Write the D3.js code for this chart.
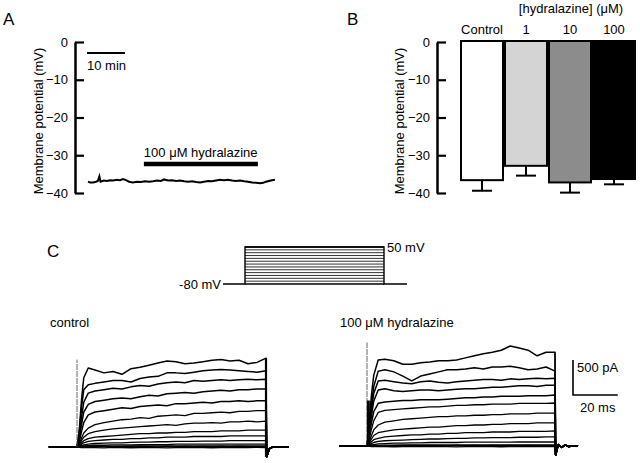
<!DOCTYPE html>
<html><head><meta charset="utf-8">
<script src="https://cdn.jsdelivr.net/npm/d3@7"></script>
<style>
body{margin:0;background:#fff;}
text{font-family:"Liberation Sans",Arial,Helvetica,sans-serif;fill:#000;}
</style>
</head><body>
<svg id="fig" width="640" height="463"></svg>
<script>
// ---------- Panel A data ----------
const aTime = [0,0.5,1.3,2.1,2.6,3.0,3.3,4.2,5.0,5.8,6.6,7.6,8.4,9.2,10.0,10.8,11.8,12.9,13.9,15.0,16.1,17.1,18.2,19.2,20.0,21.1,22.1,23.2,24.2,25.3,26.3,27.4,28.4,29.5,30.5,31.6,32.6,33.7,34.7,35.8,36.8,37.9,38.9,40.0,41.1,42.1,43.2,44.2,45.3,46.1,46.8,47.6,48.4,49.2];
const aVm = [-37.0,-37.2,-37.2,-37.0,-36.8,-35.6,-37.0,-36.7,-36.8,-36.6,-36.7,-36.5,-36.6,-36.3,-36.6,-37.0,-37.2,-37.0,-37.1,-36.9,-37.0,-36.9,-36.7,-36.8,-36.4,-36.7,-36.6,-36.8,-36.7,-36.9,-37.0,-36.9,-37.1,-37.2,-37.0,-36.8,-36.9,-36.7,-36.5,-36.6,-36.5,-36.7,-36.8,-36.7,-36.9,-37.0,-37.2,-37.3,-37.4,-37.3,-37.0,-36.8,-36.6,-36.5];
const aDrugStart = 14.7, aDrugEnd = 44.7, aDrugLevel = -32.3;
const aScaleMin = 10;
const yTicks = [0,-10,-20,-30,-40];

// ---------- Panel B data ----------
const bCategories = ["Control","1","10","100"];
const bMeans = [-36.6,-32.8,-37.2,-36.3];
const bSem = [2.8,2.6,2.7,1.4];
const bFills = ["#ffffff","#d4d4d4","#8c8c8c","#000000"];

// ---------- Panel C protocol ----------
const stepLevels = [-80,-70,-60,-50,-40,-30,-20,-10,0,10,20,30,40,50];
const holding = -80;
const stepDur = 84;

// ---------- Panel C currents (pA) ----------
const cTime = [0,1,2,3,5,8,12,16,20,24,28,32,36,40,44,48,52,56,60,64,68,72,76,80,84];
const controlTraces = [
 [0,240,670,990,1130,1100,1060,1080,1040,1120,1140,1170,1200,1230,1220,1190,1200,1220,1240,1250,1230,1240,1190,1210,1270],
 [0,200,560,820,890,910,930,950,950,930,980,1000,1010,1060,1060,1050,1070,1090,1100,1110,1100,1090,1080,1070,1090],
 [0,150,420,640,770,800,820,840,830,860,880,870,900,920,930,920,950,940,950,960,950,960,970,960,970],
 [0,110,320,500,610,650,670,690,700,690,720,740,730,760,770,780,770,790,800,810,800,820,820,830,830],
 [0,80,220,350,460,500,520,540,560,550,580,590,600,590,620,620,630,640,630,650,650,660,650,660,660],
 [0,50,130,200,270,320,350,370,390,400,420,410,440,450,460,450,480,480,490,500,490,510,510,520,520],
 [0,30,90,140,190,220,240,260,270,280,290,300,310,320,310,330,340,340,350,340,360,360,370,360,370],
 [0,20,60,90,120,140,150,160,170,180,190,190,200,200,210,210,220,220,220,230,230,230,240,240,240],
 [0,15,40,60,80,90,100,110,110,120,120,130,130,140,140,140,150,150,150,150,160,160,160,160,160],
 [0,10,20,30,40,50,55,60,60,65,70,70,75,75,80,80,80,85,85,85,90,90,90,90,90],
 [0,5,10,15,20,25,25,30,30,30,35,35,35,35,40,40,40,40,40,40,40,40,40,40,40],
 [0,3,6,8,10,10,12,12,12,14,14,14,15,15,15,15,15,15,15,15,15,15,15,15,15],
 [0,-5,-8,-6,-10,-8,-12,-6,-9,-11,-7,-10,-8,-12,-9,-6,-10,-8,-11,-7,-9,-10,-8,-6,-8],
 [0,8,4,10,6,3,9,5,7,4,8,6,3,9,5,7,4,8,6,9,5,7,4,6,5]
];
const controlTransient = 1250;
const controlPostT = [84.3,85.5,87,94];
const controlPostI = [-140,-25,0,0];

const hydraTraces = [
 [0,370,730,1010,1230,1240,1220,1170,1170,1190,1200,1220,1220,1230,1260,1290,1320,1340,1370,1430,1400,1370,1290,1340,1340],
 [0,300,600,850,1070,1090,1060,1000,930,1000,1030,1060,1090,1090,1100,1120,1100,1130,1130,1140,1120,1090,1100,1130,1070],
 [0,250,520,750,930,940,920,900,890,920,930,910,900,920,930,940,950,950,940,960,950,960,970,960,970],
 [0,200,430,640,800,820,790,780,790,800,800,790,800,810,820,820,830,840,840,850,860,860,850,870,870],
 [0,150,330,490,610,630,640,650,650,660,660,660,670,680,690,690,700,700,710,710,710,720,720,720,730],
 [0,100,240,360,480,510,520,530,540,550,560,560,570,580,580,590,590,600,600,600,610,610,610,610,615],
 [0,60,150,230,300,340,360,380,390,400,410,420,420,430,430,440,440,450,450,460,460,460,470,470,470],
 [0,40,100,150,190,210,230,240,250,260,270,270,280,290,290,300,300,310,310,320,320,320,330,330,330],
 [0,25,60,90,110,130,140,150,160,160,170,170,180,180,190,190,190,200,200,200,210,210,210,210,215],
 [0,15,35,50,65,75,80,85,90,95,100,100,105,110,110,115,115,120,120,120,125,125,125,130,130],
 [0,5,15,20,30,35,40,40,45,45,50,50,50,50,55,55,55,55,55,55,57,57,57,57,57],
 [0,3,6,8,10,12,12,14,14,14,14,14,14,14,14,14,14,14,14,14,14,14,14,14,14],
 [0,-6,-9,-7,-10,-8,-11,-7,-10,-9,-6,-10,-8,-12,-9,-7,-10,-8,-11,-7,-9,-10,-8,-7,-8],
 [0,7,4,9,5,3,8,5,7,4,8,6,3,9,5,7,4,8,6,9,5,7,4,6,5]
];
const hydraTransientThin = 1480, hydraTransientThick = 650;
const hydraPostT = [84.3,85.5,87,88.5,90,92,94.3];
const hydraPostI = [-130,20,-20,15,-10,5,0];
const preT = -12.5;
const scaleI = 500, scaleT = 20;

// ============ drawing ============
const svg = d3.select("#fig");
const font = 13;

function panelLabel(t,x,y){ svg.append("text").attr("x",x).attr("y",y).attr("font-size",17).text(t); }
panelLabel("A",3,25); panelLabel("B",347,25); panelLabel("C",47,257);

function yAxis(g, scale){
  const ax = d3.axisLeft(scale).tickValues(yTicks).tickSizeInner(-9).tickSizeOuter(0).tickPadding(7).tickFormat(d3.format("d"));
  g.call(ax);
  g.select(".domain").attr("stroke","#000").attr("stroke-width",2.5);
  g.selectAll(".tick line").attr("stroke","#000").attr("stroke-width",2.2);
  g.selectAll(".tick text").attr("font-size",font).attr("font-family","Liberation Sans, Arial, sans-serif").attr("fill","#000");
}

// ---- Panel A ----
const yA = d3.scaleLinear().domain([-40,0]).range([193,42]);
const xA = d3.scaleLinear().domain([0,49.2]).range([88,275]);
yAxis(svg.append("g").attr("transform","translate(75,0)"), yA);
svg.append("text").attr("transform","translate(43,121) rotate(-90)").attr("text-anchor","middle").attr("font-size",font).text("Membrane potential (mV)");
svg.append("path").datum(aTime.map((t,i)=>[t,aVm[i]]))
  .attr("d", d3.line().x(d=>xA(d[0])).y(d=>yA(d[1])))
  .attr("fill","none").attr("stroke","#000").attr("stroke-width",2);
svg.append("line").attr("x1",87).attr("x2",87+xA(aScaleMin)-xA(0)).attr("y1",53).attr("y2",53).attr("stroke","#000").attr("stroke-width",2);
svg.append("text").attr("x",87).attr("y",70).attr("font-size",font).text("10 min");
svg.append("line").attr("x1",xA(aDrugStart)).attr("x2",xA(aDrugEnd)).attr("y1",yA(aDrugLevel)).attr("y2",yA(aDrugLevel)).attr("stroke","#000").attr("stroke-width",4.5);
svg.append("text").attr("x",xA(aDrugStart)).attr("y",157).attr("font-size",font).text("100 \u03BCM hydralazine");

// ---- Panel B ----
const yB = d3.scaleLinear().domain([-40,0]).range([193,42]);
const xB = d3.scaleBand().domain(bCategories).range([460,636]).padding(0);
yAxis(svg.append("g").attr("transform","translate(437,0)"), yB);
svg.append("text").attr("transform","translate(404,121) rotate(-90)").attr("text-anchor","middle").attr("font-size",font).text("Membrane potential (mV)");
const bw = xB.bandwidth();
bCategories.forEach((c,i)=>{
  const cx = xB(c)+bw/2;
  svg.append("line").attr("x1",cx).attr("x2",cx).attr("y1",yB(bMeans[i])).attr("y2",yB(bMeans[i]-bSem[i])).attr("stroke","#000").attr("stroke-width",2);
  svg.append("line").attr("x1",cx-10).attr("x2",cx+10).attr("y1",yB(bMeans[i]-bSem[i])).attr("y2",yB(bMeans[i]-bSem[i])).attr("stroke","#000").attr("stroke-width",2);
});
svg.selectAll("rect.bar").data(bCategories).join("rect").attr("class","bar")
  .attr("x",d=>xB(d)+1).attr("width",bw-2)
  .attr("y",yB(0)-1).attr("height",(d,i)=>yB(bMeans[i])-yB(0)+1)
  .attr("fill",(d,i)=>bFills[i]).attr("stroke","#000").attr("stroke-width",2);
svg.selectAll("text.cat").data(bCategories).join("text").attr("class","cat")
  .attr("x",d=>xB(d)+bw/2).attr("y",34).attr("text-anchor","middle").attr("font-size",font).text(d=>d);
svg.append("text").attr("x",571).attr("y",13).attr("text-anchor","middle").attr("font-size",font).text("[hydralazine] (\u03BCM)");

// ---- Panel C protocol ----
const xP = d3.scaleLinear().domain([0,stepDur]).range([245,384]);
const yP = d3.scaleLinear().domain([-80,50]).range([284,247]);
const gP = svg.append("g");
stepLevels.forEach(v=>{
  gP.append("line").attr("x1",xP(0)).attr("x2",xP(stepDur)).attr("y1",yP(v)).attr("y2",yP(v)).attr("stroke", v===holding||v===50 ? "#000" : "#333").attr("stroke-width", v===holding||v===50 ? 1.4 : 1);
});
gP.append("path").attr("d",d3.line()([[xP(-13.3),yP(holding)],[xP(0),yP(holding)],[xP(0),yP(50)],[xP(stepDur),yP(50)],[xP(stepDur),yP(holding)],[xP(97.9),yP(holding)]]))
  .attr("fill","none").attr("stroke","#000").attr("stroke-width",1.4);
svg.append("text").attr("x",221).attr("y",289).attr("text-anchor","end").attr("font-size",font).text("-80 mV");
svg.append("text").attr("x",387).attr("y",252).attr("font-size",font).text("50 mV");

// ---- Panel C currents ----
function drawCurrents(traces, xS, yS, postT, postI, pre){
  const g = svg.append("g");
  const line = d3.line().x(d=>xS(d[0])).y(d=>yS(d[1]));
  traces.forEach((tr,idx)=>{
    const pts = [[pre,0]];
    cTime.forEach((t,k)=>pts.push([t,tr[k]]));
    postT.forEach((t,k)=>pts.push([t,postI[k]]));
    g.append("path").attr("d",line(pts)).attr("fill","none").attr("stroke","#000")
      .attr("stroke-width", idx < 5 ? 1.5 : 1.3).attr("stroke-linejoin","round");
  });
  return g;
}
const xC = d3.scaleLinear().domain([0,stepDur]).range([77,266]);
const yC = d3.scaleLinear().domain([0,1500]).range([447,447-1500/14.3]);
const gC = drawCurrents(controlTraces, xC, yC, controlPostT, controlPostI, preT);
gC.append("line").attr("x1",xC(0)).attr("x2",xC(0)).attr("y1",yC(0)).attr("y2",yC(controlTransient)).attr("stroke","#555").attr("stroke-width",0.9).attr("stroke-dasharray","6,1");
gC.append("line").attr("x1",xC(stepDur)).attr("x2",xC(stepDur)).attr("y1",yC(controlTraces[0][cTime.length-1])).attr("y2",yC(controlPostI[0])).attr("stroke","#000").attr("stroke-width",2.2);

const xH = d3.scaleLinear().domain([0,stepDur]).range([367,555]);
const yH = d3.scaleLinear().domain([0,1500]).range([446,446-1500/14.3]);
const gH = drawCurrents(hydraTraces, xH, yH, hydraPostT, hydraPostI, preT);
gH.append("line").attr("x1",xH(0)).attr("x2",xH(0)).attr("y1",yH(0)).attr("y2",yH(hydraTransientThin)).attr("stroke","#555").attr("stroke-width",0.9).attr("stroke-dasharray","6,1");
gH.append("line").attr("x1",xH(0.6)).attr("x2",xH(0.6)).attr("y1",yH(0)).attr("y2",yH(hydraTransientThick)).attr("stroke","#000").attr("stroke-width",3);
gH.append("line").attr("x1",xH(stepDur)).attr("x2",xH(stepDur)).attr("y1",yH(hydraTraces[0][cTime.length-1])).attr("y2",yH(hydraPostI[0])).attr("stroke","#000").attr("stroke-width",1.2);

svg.append("text").attr("x",50).attr("y",327).attr("font-size",font).text("control");
svg.append("text").attr("x",340).attr("y",327).attr("font-size",font).text("100 \u03BCM hydralazine");

// scale bars
const sbH = yH(0)-yH(scaleI), sbW = xH(scaleT)-xH(0);
svg.append("path").attr("d",d3.line()([[573,395-sbH],[573,395],[573+sbW,395]])).attr("fill","none").attr("stroke","#000").attr("stroke-width",1.6);
svg.append("text").attr("x",577).attr("y",372).attr("font-size",font).text("500 pA");
svg.append("text").attr("x",580).attr("y",412).attr("font-size",font).text("20 ms");
</script>
</body></html>
